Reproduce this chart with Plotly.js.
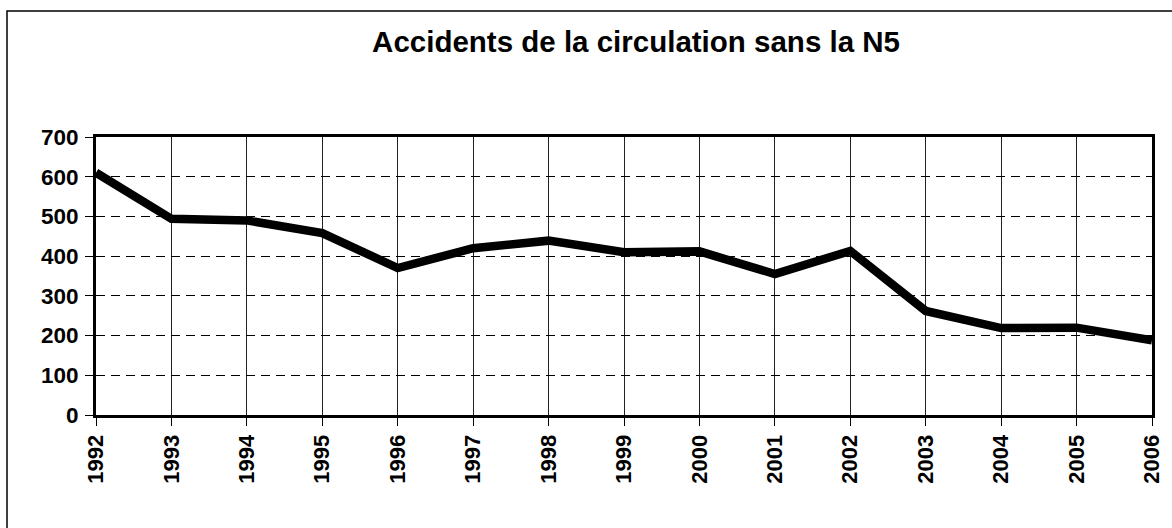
<!DOCTYPE html>
<html>
<head>
<meta charset="utf-8">
<script src="https://cdn.plot.ly/plotly-3.0.1.min.js"></script>
<style>
html,body{margin:0;padding:0;background:#fff;}
#chart{width:1172px;height:528px;}
</style>
</head>
<body>
<div id="chart"></div>
<script>
const years = [1992,1993,1994,1995,1996,1997,1998,1999,2000,2001,2002,2003,2004,2005,2006];
const accidents = [610,494,490,458,370,420,439,410,412,355,413,262,219,220,188];
const yTicks = [0,100,200,300,400,500,600,700];
const titleText = "Accidents de la circulation sans la N5";

const font = "Arial, 'Liberation Sans', sans-serif";

const trace = {
  x: years, y: accidents, type: 'scatter', mode: 'lines',
  line: {color: '#000', width: 8.5}, hoverinfo: 'skip', cliponaxis: false
};

const L = 96, R = 20, T = 137, B = 113, W = 1172, H = 528;
const pw = W - L - R, ph = H - T - B;

const layout = {
  width: W, height: H,
  margin: {l: L, r: R, t: T, b: B, pad: 0},
  paper_bgcolor: '#fff', plot_bgcolor: '#fff',
  showlegend: false,
  font: {family: font, color: '#000'},
  title: {text: '<b>' + titleText + '</b>', font: {family: font, size: 29.5, color: '#000'},
          x: 0.5427, xanchor: 'center', y: 0.921, yanchor: 'middle'},
  xaxis: {
    type: 'linear', range: [years[0], years[years.length-1]],
    tickvals: years, ticktext: years.map(String), tickangle: -90,
    tickfont: {family: font, size: 22, color: '#000', weight: 'bold'},
    ticks: 'outside', ticklen: 8, tickcolor: '#000', tickwidth: 1,
    showgrid: true, gridcolor: '#222', gridwidth: 1,
    showline: true, linecolor: '#000', linewidth: 3, mirror: true,
    zeroline: false, fixedrange: true
  },
  yaxis: {
    range: [0, 700], tickvals: yTicks, ticktext: yTicks.map(String),
    tickfont: {family: font, size: 22.5, color: '#000', weight: 'bold'},
    ticks: 'outside', ticklen: 8, tickcolor: '#000', tickwidth: 1,
    ticklabelstandoff: 2,
    showgrid: true, gridcolor: '#000', gridwidth: 1, griddash: '9px,6px',
    showline: true, linecolor: '#000', linewidth: 3, mirror: true,
    zeroline: false, fixedrange: true
  },
  shapes: [{
    type: 'rect', xref: 'paper', yref: 'paper', layer: 'above',
    x0: (7 - L) / pw, x1: (W + 20 - L) / pw,
    y0: -(B + 20) / ph, y1: (H - B - 11) / ph,
    line: {color: '#000', width: 1.5}, fillcolor: 'rgba(0,0,0,0)'
  }]
};

Plotly.newPlot('chart', [trace], layout, {staticPlot: true, displayModeBar: false});
</script>
</body>
</html>
